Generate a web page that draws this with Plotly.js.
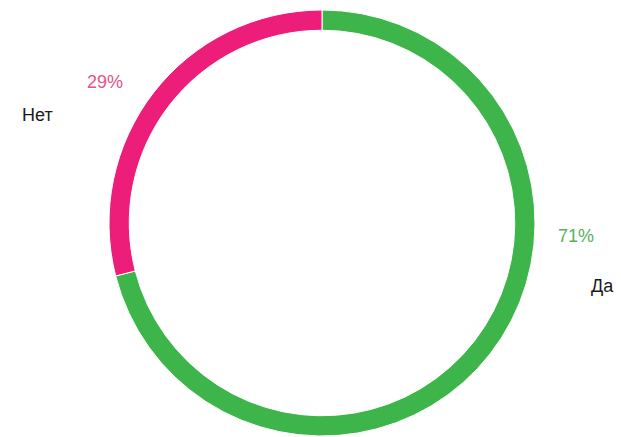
<!DOCTYPE html>
<html><head><meta charset="utf-8">
<script src="https://cdn.plot.ly/plotly-3.0.1.min.js"></script>
<style>html,body{margin:0;padding:0;background:#fff}#chart{width:621px;height:437px}</style>
</head><body><div id="chart"></div>
<script>
const categories = ["Да", "Нет"];
const values = [71, 29];
const percentLabels = ["71%", "29%"];
const colors = ["#3DB54A", "#EC1E79"];
const textColors = ["#55B25E", "#E8508A"];

const trace = {
  type: "pie",
  labels: categories,
  values: values,
  hole: 0.905,
  sort: false,
  direction: "clockwise",
  rotation: 0,
  textinfo: "none",
  hoverinfo: "label+percent",
  marker: {colors: colors, line: {color: "#ffffff", width: 1}},
  showlegend: false
};

const W = 621, H = 437, M = {l: 109, r: 86, t: 10, b: 1};
const pw = W - M.l - M.r, ph = H - M.t - M.b;
const font = {family: "Liberation Sans, Arial, sans-serif", size: 18};
const annotations = [
  {x: 105, y: 82, text: percentLabels[1], color: textColors[1]},
  {x: 37, y: 115, text: categories[1], color: "#1a1a1a"},
  {x: 576, y: 236, text: percentLabels[0], color: textColors[0]},
  {x: 602, y: 286, text: categories[0], color: "#1a1a1a"}
].map(a => ({
  xref: "paper", yref: "paper",
  x: (a.x - M.l) / pw, y: (H - M.b - a.y) / ph,
  text: a.text, showarrow: false,
  xanchor: "center", yanchor: "middle",
  font: Object.assign({}, font, {color: a.color})
}));

const layout = {
  width: W, height: H,
  margin: M,
  paper_bgcolor: "#ffffff",
  annotations: annotations
};

Plotly.newPlot("chart", [trace], layout, {displayModeBar: false, staticPlot: true});
</script></body></html>
